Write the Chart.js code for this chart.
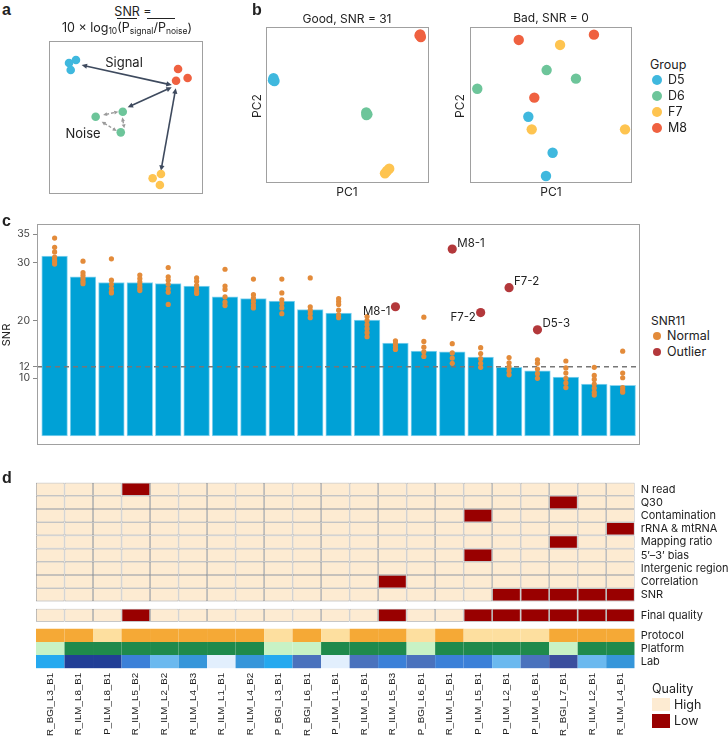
<!DOCTYPE html>
<html><head><meta charset="utf-8">
<script src="https://cdn.jsdelivr.net/npm/chart.js@4.4.1/dist/chart.umd.min.js"></script>
<style>
html,body{margin:0;padding:0;background:#fff}
body{width:728px;height:736px;position:relative;overflow:hidden;font-family:Inter,"Liberation Sans",sans-serif;color:#222}
canvas{position:absolute}
.abs{position:absolute;white-space:nowrap;line-height:1}
sub{font-size:68%;vertical-align:-0.3em;line-height:0}
</style></head>
<body>
<canvas id="ca" width="174" height="173" style="left:39px;top:31px"></canvas>
<canvas id="cbg" width="183" height="176" style="left:256px;top:17px"></canvas>
<canvas id="cbb" width="182" height="176" style="left:460px;top:17px"></canvas>
<canvas id="cc" width="650" height="240" style="left:0;top:215px"></canvas>
<canvas id="cd" width="728" height="266" style="left:0;top:470px"></canvas>
<script>
// ================= DATA =================
const groups = ['D5', 'D6', 'F7', 'M8'];
const groupColors = ['#3FB8DE', '#6DC59A', '#FEC450', '#EF6140'];

// panel a: schematic points (arbitrary PC units, 0-100)
const aD5 = [[13.0, 85.6], [17.5, 87.6], [14.1, 81.0]];
const aD6 = [[30.3, 50.5], [47.9, 53.8], [46.6, 40.3]];
const aF7 = [[72.7, 13.1], [67.3, 10.3], [72.0, 5.9]];
const aM8 = [[83.8, 81.7], [82.5, 74.0], [90.0, 75.8]];
const aSignalArrows = [[21.2, 84.3, 79.7, 71.2], [79.7, 69.7, 51.1, 56.7], [82.3, 69.1, 72.7, 15.2]];
const aNoiseArrows = [[35.1, 51.6, 45.0, 53.8], [34.2, 47.3, 44.0, 41.2], [47.6, 50.1, 48.9, 42.9]];

// panel b: PCA (arbitrary PC units, 0-100)
const goodD5 = [[4.6, 67.2], [5.2, 65.4], [4.3, 65.9]];
const goodD6 = [[61.5, 45.2], [62.2, 44.0], [61.6, 43.6]];
const goodF7 = [[73.0, 6.2], [75.6, 9.2], [74.2, 7.7]];
const goodM8 = [[94.2, 94.6], [95.0, 93.6], [94.6, 95.2]];
const badD5 = [[36.0, 42.5], [51.0, 19.4], [46.9, 4.5]];
const badD6 = [[47.3, 72.4], [65.4, 66.9], [4.5, 60.4]];
const badF7 = [[55.6, 88.5], [38.1, 34.4], [95.7, 34.4]];
const badM8 = [[30.1, 91.7], [76.5, 95.1], [39.7, 54.7]];

// panel c / d: samples
const sampleNames = ['R_BGI_L3_B1', 'R_ILM_L8_B1', 'P_ILM_L8_B1', 'R_ILM_L5_B2', 'R_ILM_L2_B2', 'R_ILM_L4_B3',
  'R_ILM_L1_B1', 'R_ILM_L4_B2', 'P_BGI_L3_B1', 'R_BGI_L6_B1', 'P_ILM_L1_B1', 'R_ILM_L6_B1', 'R_ILM_L5_B3',
  'P_BGI_L6_B1', 'R_ILM_L5_B1', 'P_ILM_L5_B1', 'P_ILM_L2_B1', 'P_ILM_L6_B1', 'R_BGI_L7_B1', 'R_ILM_L2_B1', 'R_ILM_L4_B1'];
const snrValues = [31.2, 27.6, 26.6, 26.6, 26.4, 26.0, 24.1, 23.8, 23.4, 21.9, 21.3, 20.1, 16.1, 14.7, 14.6,
  13.7, 11.9, 11.3, 10.2, 9.0, 8.8];
const snrNormal = [
  [34.3, 32.7, 31.9, 31.0, 30.5, 30.2, 29.8],
  [30.3, 28.3, 27.8, 27.3, 26.8, 26.4],
  [30.7, 27.0, 26.3, 25.6, 25.0, 24.8],
  [27.9, 27.3, 26.7, 26.1, 25.6, 25.2],
  [29.2, 27.6, 27.0, 26.3, 25.5, 24.9, 22.8],
  [27.4, 26.8, 26.1, 25.5, 25.0, 24.7],
  [28.9, 26.0, 25.4, 24.1, 23.2, 22.6],
  [27.2, 24.5, 23.9, 23.3, 22.7, 22.2],
  [27.2, 24.8, 23.6, 22.9, 22.2, 21.2],
  [27.4, 22.4, 21.8, 21.2, 20.5],
  [23.8, 23.3, 22.8, 21.8, 21.0, 20.5],
  [20.7, 20.0, 19.3, 18.6, 17.9, 17.2],
  [16.5, 16.0, 15.5, 15.0],
  [20.6, 16.4, 15.4, 14.6, 13.8],
  [16.0, 14.4, 13.5, 12.6],
  [15.3, 14.3, 13.4, 12.6, 11.9],
  [13.6, 12.7, 12.0, 11.3, 10.6],
  [13.2, 12.6, 11.6, 10.8, 10.0],
  [13.0, 11.8, 10.9, 10.0, 9.2, 8.4],
  [11.9, 10.5, 9.8, 9.0, 8.3, 7.6, 7.1],
  [14.7, 10.9, 10.1, 8.4, 7.9, 7.6]
];
const outlierSample = [12, 14, 15, 16, 17];
const outlierSnr = [22.4, 32.4, 21.4, 25.7, 18.4];
const outlierLabels = ['M8-1', 'M8-1', 'F7-2', 'F7-2', 'D5-3'];
const outlierSide = ['left', 'right', 'left', 'right', 'right'];
const snrTicks = [10, 12, 20, 30, 35];
const snrCutoff = 12;

// panel d: QC flags (1 = Low quality)
const qcNames = ['N read', 'Q30', 'Contamination', 'rRNA & mtRNA', 'Mapping ratio', '5\u2032\u20133\u2032 bias',
  'Intergenic region', 'Correlation', 'SNR'];
const qNRead       = [0,0,0,1,0,0,0,0,0,0,0,0,0,0,0,0,0,0,0,0,0];
const qQ30         = [0,0,0,0,0,0,0,0,0,0,0,0,0,0,0,0,0,0,1,0,0];
const qContam      = [0,0,0,0,0,0,0,0,0,0,0,0,0,0,0,1,0,0,0,0,0];
const qRRNA        = [0,0,0,0,0,0,0,0,0,0,0,0,0,0,0,0,0,0,0,0,1];
const qMapping     = [0,0,0,0,0,0,0,0,0,0,0,0,0,0,0,0,0,0,1,0,0];
const qBias        = [0,0,0,0,0,0,0,0,0,0,0,0,0,0,0,1,0,0,0,0,0];
const qIntergenic  = [0,0,0,0,0,0,0,0,0,0,0,0,0,0,0,0,0,0,0,0,0];
const qCorrelation = [0,0,0,0,0,0,0,0,0,0,0,0,1,0,0,0,0,0,0,0,0];
const qSNR         = [0,0,0,0,0,0,0,0,0,0,0,0,0,0,0,0,1,1,1,1,1];
const qFinal       = [0,0,0,1,0,0,0,0,0,0,0,0,1,0,0,1,1,1,1,1,1];
const protocol = ['R','R','P','R','R','R','R','R','P','R','P','R','R','P','R','P','P','P','R','R','R'];
const platform = ['BGI','ILM','ILM','ILM','ILM','ILM','ILM','ILM','BGI','BGI','ILM','ILM','ILM','BGI','ILM','ILM','ILM','ILM','BGI','ILM','ILM'];
const lab = ['L3','L8','L8','L5','L2','L4','L1','L4','L3','L6','L1','L6','L5','L6','L5','L5','L2','L6','L7','L2','L4'];

// ================= STYLE =================
const HIGH = '#FDEBD2', LOW = '#990000';
const protocolColors = { R: '#F5A936', P: '#FDDF9F' };
const platformColors = { ILM: '#1F8A4C', BGI: '#C8F2C5' };
const labColors = { L1: '#E2EFFD', L2: '#6BB9EF', L3: '#25A9EF', L4: '#3696DA', L5: '#3B80D8', L6: '#4A72BD', L7: '#3A4E9E', L8: '#213E96' };
const FRAME = '#A0A0A0';

Chart.defaults.font.family = 'Inter, "Liberation Sans", sans-serif';
Chart.defaults.color = '#222';
Chart.defaults.animation = false;
Chart.defaults.responsive = false;
Chart.defaults.devicePixelRatio = 1;
Chart.defaults.events = [];
Chart.defaults.plugins.legend.display = false;
Chart.defaults.plugins.tooltip.enabled = false;

// ================= HELPERS =================
function txt(s, x, y, o = {}) {
  const d = document.createElement('div');
  d.className = 'abs';
  d.innerHTML = s;
  d.style.left = x + 'px';
  d.style.top = y + 'px';
  d.style.fontSize = (o.size || 12) + 'px';
  if (o.weight) d.style.fontWeight = o.weight;
  if (o.family) d.style.fontFamily = o.family;
  if (o.color) d.style.color = o.color;
  const ax = o.align === 'center' ? '-50%' : o.align === 'right' ? '-100%' : '0';
  d.style.transform = `translate(${ax},-50%)` + (o.rot ? ` rotate(${o.rot}deg)` : '');
  document.body.appendChild(d);
  return d;
}
function box(x, y, w, h, color, extra) {
  const d = document.createElement('div');
  d.style.cssText = `position:absolute;left:${x}px;top:${y}px;width:${w}px;height:${h}px;background:${color};${extra || ''}`;
  document.body.appendChild(d);
}
const pts = arr => arr.map(([x, y]) => ({ x, y }));
const framePlugin = {
  id: 'frame',
  afterDraw(chart) {
    const a = chart.chartArea, c = chart.ctx;
    c.save(); c.strokeStyle = FRAME; c.lineWidth = 1;
    c.strokeRect(Math.round(a.left) + 0.5, Math.round(a.top) + 0.5, Math.round(a.right - a.left) - 1, Math.round(a.bottom - a.top) - 1);
    c.restore();
  }
};
function hiddenScales() {
  return {
    x: { type: 'linear', min: 0, max: 100, display: false },
    y: { type: 'linear', min: 0, max: 100, display: false }
  };
}
function groupDatasets(sets, r) {
  return sets.map((s, i) => ({
    label: groups[i], data: pts(s), backgroundColor: groupColors[i], borderWidth: 0,
    pointRadius: r, clip: false
  }));
}
function drawArrow(ctx, x1, y1, x2, y2, color, width, dash, head) {
  const ang = Math.atan2(y2 - y1, x2 - x1);
  ctx.save();
  ctx.strokeStyle = color; ctx.fillStyle = color; ctx.lineWidth = width;
  ctx.setLineDash(dash);
  ctx.beginPath();
  ctx.moveTo(x1 + Math.cos(ang) * head * 0.7, y1 + Math.sin(ang) * head * 0.7);
  ctx.lineTo(x2 - Math.cos(ang) * head * 0.7, y2 - Math.sin(ang) * head * 0.7);
  ctx.stroke();
  ctx.setLineDash([]);
  for (const [x, y, a] of [[x2, y2, ang], [x1, y1, ang + Math.PI]]) {
    ctx.beginPath();
    ctx.moveTo(x, y);
    ctx.lineTo(x - head * Math.cos(a - 0.45), y - head * Math.sin(a - 0.45));
    ctx.lineTo(x - head * Math.cos(a + 0.45), y - head * Math.sin(a + 0.45));
    ctx.closePath(); ctx.fill();
  }
  ctx.restore();
}

// ================= PANEL A =================
new Chart(document.getElementById('ca'), {
  type: 'scatter',
  data: { datasets: groupDatasets([aD5, aD6, aF7, aM8], 4.3) },
  options: { layout: { padding: 10 }, scales: hiddenScales() },
  plugins: [framePlugin, {
    id: 'arrows',
    beforeDatasetsDraw(chart) {
      const xs = chart.scales.x, ys = chart.scales.y, c = chart.ctx;
      const P = (a) => [xs.getPixelForValue(a[0]), ys.getPixelForValue(a[1]), xs.getPixelForValue(a[2]), ys.getPixelForValue(a[3])];
      aNoiseArrows.forEach(a => { const p = P(a); drawArrow(c, p[0], p[1], p[2], p[3], '#9A9A9A', 1.4, [3, 2], 4.5); });
      aSignalArrows.forEach(a => { const p = P(a); drawArrow(c, p[0], p[1], p[2], p[3], '#3E4A5E', 1.6, [], 6); });
    }
  }]
});
txt('a', 2, 10, { size: 16, weight: 'bold', family: '"Liberation Sans", Arial, sans-serif' });
txt('SNR =', 133, 12, { size: 12.5, align: 'center' });
txt('10 × log<sub>10</sub>(P<sub>signal</sub>/P<sub>noise</sub>)', 127, 28, { size: 12.5, align: 'center' });
box(117, 18, 20, 1, '#222');
box(147, 18, 28, 1, '#222');
txt('Signal', 124, 62, { size: 13, align: 'center' });
txt('Noise', 83, 133, { size: 13, align: 'center' });

// ================= PANEL B =================
new Chart(document.getElementById('cbg'), {
  type: 'scatter',
  data: { datasets: groupDatasets([goodD5, goodD6, goodF7, goodM8], 5.2) },
  options: { layout: { padding: 10 }, scales: hiddenScales() },
  plugins: [framePlugin]
});
new Chart(document.getElementById('cbb'), {
  type: 'scatter',
  data: { datasets: groupDatasets([badD5, badD6, badF7, badM8], 5.2) },
  options: { layout: { padding: 10 }, scales: hiddenScales() },
  plugins: [framePlugin]
});
txt('b', 252, 10, { size: 16, weight: 'bold', family: '"Liberation Sans", Arial, sans-serif' });
txt('Good, SNR = 31', 347, 19, { size: 12, align: 'center' });
txt('Bad, SNR = 0', 551, 18, { size: 12, align: 'center' });
txt('PC1', 347, 192, { size: 12, align: 'center' });
txt('PC1', 551, 192, { size: 12, align: 'center' });
txt('PC2', 257, 106, { size: 12, align: 'center', rot: -90 });
txt('PC2', 460, 106, { size: 12, align: 'center', rot: -90 });
txt('Group', 650, 65, { size: 12.5 });
groups.forEach((g, i) => {
  box(652, 75 + i * 16, 10, 10, groupColors[i], 'border-radius:50%');
  txt(g, 668, 80 + i * 16, { size: 12.5 });
});

// ================= PANEL C =================
const barData = snrValues.map((v, i) => ({ x: i, y: v }));
const normalData = [];
snrNormal.forEach((arr, i) => arr.forEach(v => normalData.push({ x: i, y: v })));
const outlierData = outlierSample.map((s, k) => ({ x: s, y: outlierSnr[k] }));
const xMin = -0.62, xMax = 20.61;
new Chart(document.getElementById('cc'), {
  type: 'bar',
  data: {
    datasets: [
      { type: 'bar', label: 'SNR', data: barData, backgroundColor: '#00A1D6', borderColor: '#8AD4EF', borderWidth: 1, borderSkipped: false, barThickness: 25.7, order: 4 },
      { type: 'line', label: 'cutoff', data: [{ x: xMin, y: snrCutoff }, { x: xMax, y: snrCutoff }], borderColor: '#777777', borderWidth: 1.5, borderDash: [5, 4], pointRadius: 0, order: 3 },
      { type: 'scatter', label: 'Normal', data: normalData, backgroundColor: '#E38B3A', borderWidth: 0, pointRadius: 2.6, order: 2 },
      { type: 'scatter', label: 'Outlier', data: outlierData, backgroundColor: '#B3383B', borderWidth: 0, pointRadius: 4.6, order: 1, clip: false }
    ]
  },
  options: {
    layout: { padding: { top: 7, bottom: 5, right: 10, left: 0 } },
    scales: {
      x: { type: 'linear', min: xMin, max: xMax, offset: false, display: false },
      y: {
        type: 'linear', min: -1.68, max: 36.69,
        afterBuildTicks: s => { s.ticks = snrTicks.map(v => ({ value: v })); },
        afterFit: s => { s.width = 37; },
        ticks: { padding: 3, autoSkip: false, font: { size: 10.5 }, color: '#444' },
        grid: { drawOnChartArea: false, drawTicks: true, tickLength: 4, color: '#888' },
        border: { display: false },
        title: { display: true, text: 'SNR', padding: 0, font: { size: 11 }, color: '#222' }
      }
    }
  },
  plugins: [framePlugin, {
    id: 'outLabels',
    afterDatasetsDraw(chart) {
      const meta = chart.getDatasetMeta(3), c = chart.ctx;
      c.save(); c.font = '11.5px Inter, sans-serif'; c.fillStyle = '#222'; c.textBaseline = 'middle';
      meta.data.forEach((p, i) => {
        if (outlierSide[i] === 'right') { c.textAlign = 'left'; c.fillText(outlierLabels[i], p.x + 5, p.y - 6); }
        else { c.textAlign = 'right'; c.fillText(outlierLabels[i], p.x - 5, p.y + 5); }
      });
      c.restore();
    }
  }]
});
txt('c', 2, 221, { size: 16, weight: 'bold', family: '"Liberation Sans", Arial, sans-serif' });
txt('SNR11', 651, 321, { size: 12 });
box(653, 332, 8, 8, '#E38B3A', 'border-radius:50%');
txt('Normal', 667, 336, { size: 12.5 });
box(653, 348, 8, 8, '#B3383B', 'border-radius:50%');
txt('Outlier', 667, 352, { size: 12.5 });

// ================= PANEL D =================
const qcRows = [qNRead, qQ30, qContam, qRRNA, qMapping, qBias, qIntergenic, qCorrelation, qSNR];
const bandList = [];
const rowLabels = [];
const hmDatasets = [];
function addRow(name, band, colors, bordered) {
  bandList.push((band[0] + band[1]) / 2);
  rowLabels.push(name);
  hmDatasets.push({
    label: name, data: sampleNames.map(() => band), backgroundColor: colors,
    borderColor: '#9C9C9C', borderWidth: bordered ? 0.8 : 0, borderSkipped: false,
    grouped: false, barPercentage: 1, categoryPercentage: 1, inflateAmount: 0
  });
}
qcRows.forEach((row, i) => addRow(qcNames[i], [i, i + 1], row.map(v => v ? LOW : HIGH), true));
addRow('Final quality', [9.55, 10.55], qFinal.map(v => v ? LOW : HIGH), true);
addRow('Protocol', [11.07, 12.07], protocol.map(p => protocolColors[p]), false);
addRow('Platform', [12.07, 13.07], platform.map(p => platformColors[p]), false);
addRow('Lab', [13.07, 14.07], lab.map(p => labColors[p]), false);

new Chart(document.getElementById('cd'), {
  type: 'bar',
  data: { labels: sampleNames, datasets: hmDatasets },
  options: {
    layout: { padding: { left: 36, top: 7.3, right: 0, bottom: 0 } },
    scales: {
      x: {
        type: 'category',
        afterFit: s => { s.height = 67.3; },
        ticks: { autoSkip: false, minRotation: 90, maxRotation: 90, padding: 4, font: { size: 9.8, family: '"Liberation Sans", Arial, sans-serif' }, color: '#222' },
        grid: { display: false, drawTicks: false }, border: { display: false }
      },
      y: {
        type: 'linear', position: 'right', reverse: true, min: 0, max: 14.1,
        afterFit: s => { s.width = 93.3; },
        afterBuildTicks: s => { s.ticks = bandList.map(v => ({ value: v })); },
        ticks: { autoSkip: false, callback: (v, i) => rowLabels[i], padding: 6, font: { size: 11 }, color: '#222' },
        grid: { display: false, drawTicks: false }, border: { display: false }
      }
    }
  }
});
txt('d', 2, 478, { size: 16, weight: 'bold', family: '"Liberation Sans", Arial, sans-serif' });
txt('Quality', 652, 689, { size: 12.5 });
box(652, 698, 18, 13, HIGH);
txt('High', 674, 705, { size: 12.5 });
box(652, 714, 18, 14, LOW);
txt('Low', 674, 721, { size: 12.5 });
</script>
</body></html>
